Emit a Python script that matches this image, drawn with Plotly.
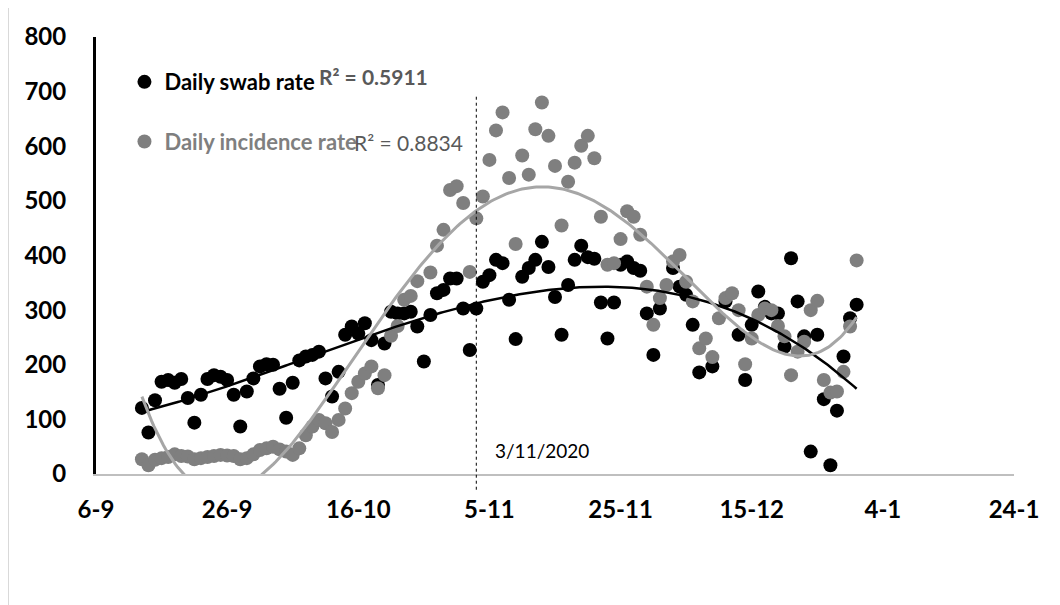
import numpy as np
import pandas as pd
import plotly.graph_objects as go

START = pd.Timestamp("2020-09-06")

# Daily swab rate: day offset from 6 Sep 2020 and value
swab_days = [7, 8, 9, 10, 11, 12, 13, 14, 15, 16, 17, 18, 19, 20, 21, 22, 23, 24, 25, 26,
             27, 28, 29, 30, 31, 32, 33, 34, 35, 36, 37, 38, 39, 40, 41, 42, 43, 44, 45, 46,
             47, 48, 49, 50, 51, 52, 53, 54, 55, 56, 57, 58, 59, 60, 61, 62, 63, 64, 65, 66,
             67, 68, 69, 70, 71, 72, 73, 74, 75, 76, 77, 78, 79, 80, 81, 82, 83, 84, 85, 86,
             88, 89, 90, 91, 92, 94, 96, 98, 99, 100, 101, 102, 103, 104, 105, 106,
             107, 108, 109, 110, 111, 112, 113, 114, 115, 116]
swab_vals = [121, 76, 135, 169, 172, 167, 174, 139, 94, 145, 174, 181, 178, 172, 145, 87, 151, 175, 197, 201,
             200, 156, 103, 167, 208, 215, 218, 224, 175, 142, 187, 255, 270, 257, 276, 245, 163, 239, 297, 294,
             294, 297, 270, 206, 291, 331, 337, 358, 358, 303, 227, 303, 352, 364, 392, 386, 319, 247, 361, 377,
             392, 425, 379, 324, 255, 346, 392, 418, 397, 394, 314, 248, 314, 383, 389, 377, 372, 294, 218, 303,
             377, 343, 328, 273, 186, 197, 316, 255, 172, 273, 334, 306, 294, 294, 233, 395,
             316, 252, 41, 255, 137, 16, 116, 215, 285, 310]

# Daily incidence rate
inc_days = [7, 8, 9, 10, 11, 12, 13, 14, 15, 16, 17, 18, 19, 20, 21, 22, 23, 24, 25, 26,
            27, 28, 29, 30, 31, 32, 33, 34, 35, 36, 37, 38, 39, 40, 41, 42, 43, 44, 45, 46,
            47, 48, 49, 51, 52, 53, 54, 55, 56, 57, 58, 59, 60, 61, 62, 63, 64, 65, 66,
            67, 68, 69, 70, 71, 72, 73, 74, 75, 76, 77, 78, 79, 80, 81, 82, 83, 84, 85, 86,
            87, 88, 89, 90, 91, 92, 93, 94, 95, 96, 97, 98, 99, 100, 101, 102, 103, 104, 105, 106,
            107, 108, 109, 110, 111, 112, 113, 114, 115, 116]
inc_vals = [27, 16, 26, 29, 31, 36, 33, 32, 27, 29, 31, 33, 35, 34, 33, 27, 29, 36, 44, 47,
            50, 45, 41, 35, 47, 71, 87, 99, 93, 77, 99, 120, 148, 169, 184, 197, 157, 181, 253, 271,
            319, 326, 353, 369, 418, 447, 520, 527, 496, 370, 468, 508, 575, 629, 662, 542, 421, 583, 548,
            631, 680, 619, 564, 455, 535, 570, 601, 619, 578, 471, 383, 386, 430, 481, 471, 438, 343, 273, 322,
            346, 389, 401, 352, 316, 230, 248, 214, 285, 322, 331, 300, 201, 248, 291, 303, 300, 271, 252, 181,
            224, 242, 300, 317, 172, 149, 151, 187, 270, 391]

swab_name = "Daily swab rate"
inc_name = "Daily incidence rate"
swab_r2 = "R² = 0.5911"
inc_r2 = "R² = 0.8834"
swab_degree = 3
inc_degree = 4

marker_line_day = 58          # 3/11/2020
marker_line_label = "3/11/2020"

tick_start = "2020-09-06"
x_range = ["2020-09-06", "2021-01-24"]

BLACK = "#000000"
GRAY = "#7F7F7F"
TREND_GRAY = "#A6A6A6"
R2_COLOR = "#595959"
FONT = "Lato"


def to_dates(days):
    return [START + pd.Timedelta(days=int(d)) for d in days]


def trend(days, vals, deg):
    d = np.asarray(days, dtype=float)
    coef = np.polyfit(d, np.asarray(vals, dtype=float), deg)
    grid = np.linspace(d.min(), d.max(), 300)
    fit = np.polyval(coef, grid)
    gdates = [START + pd.Timedelta(days=float(g)) for g in grid]
    return gdates, fit


fig = go.Figure()

fig.add_trace(go.Scatter(
    x=to_dates(swab_days), y=swab_vals, mode="markers", name=swab_name,
    marker=dict(color=BLACK, size=14, line=dict(width=0)),
    legendgroup="a",
))
fig.add_trace(go.Scatter(
    x=to_dates(inc_days), y=inc_vals, mode="markers",
    name=f"<span style='color:{GRAY}'>{inc_name}</span>",
    marker=dict(color=GRAY, size=14, line=dict(width=0)),
    legendgroup="b",
))

sx, sy = trend(swab_days, swab_vals, swab_degree)
ix, iy = trend(inc_days, inc_vals, inc_degree)
fig.add_trace(go.Scatter(x=sx, y=sy, mode="lines", line=dict(color=BLACK, width=2.5),
                         showlegend=False, hoverinfo="skip"))
fig.add_trace(go.Scatter(x=ix, y=iy, mode="lines", line=dict(color=TREND_GRAY, width=3),
                         showlegend=False, hoverinfo="skip"))

line_date = START + pd.Timedelta(days=marker_line_day)
fig.add_shape(type="line", xref="x", yref="paper", x0=line_date, x1=line_date,
              y0=-0.036, y1=0.868, line=dict(color=BLACK, width=1, dash="dot"))

# faint chart-area border on the left edge
fig.add_shape(type="line", xref="paper", yref="paper", x0=-0.0953, x1=-0.0953, y0=-0.40, y1=1.07,
              line=dict(color="#D9D9D9", width=1), layer="below")

fig.add_annotation(xref="paper", yref="paper", x=0.2407, y=0.9085, xanchor="left", yanchor="middle",
                   text=f"<b>{swab_r2}</b>", showarrow=False,
                   font=dict(family=FONT, size=21, color=R2_COLOR))
fig.add_annotation(xref="paper", yref="paper", x=0.2789, y=0.7597, xanchor="left", yanchor="middle",
                   text=inc_r2, showarrow=False,
                   font=dict(family=FONT, size=21, color=R2_COLOR))
fig.add_annotation(xref="paper", yref="paper", x=0.4858, y=0.0549, xanchor="center", yanchor="middle",
                   text=marker_line_label, showarrow=False,
                   font=dict(family=FONT, size=19, color=BLACK))

fig.update_layout(
    width=1052, height=597,
    margin=dict(l=88, r=46, t=29, b=131),
    paper_bgcolor="white", plot_bgcolor="white",
    font=dict(family=FONT, color=BLACK),
    showlegend=True,
    legend=dict(x=0.031, y=0.945, xanchor="left", yanchor="top",
                bgcolor="rgba(0,0,0,0)", traceorder="grouped", tracegroupgap=28,
                font=dict(family=FONT, size=22, color=BLACK, weight="bold"),
                itemwidth=30),
    xaxis=dict(
        type="date", range=x_range, tick0=tick_start, dtick=20 * 86400000,
        tickformat="%-d-%-m", showgrid=False, zeroline=False,
        showline=True, linecolor="#BFBFBF", linewidth=2,
        ticks="", ticklabelstandoff=13,
        tickfont=dict(family=FONT, size=24, color=BLACK, weight="bold"),
    ),
    yaxis=dict(
        range=[0, 800], dtick=100, showgrid=False, zeroline=False,
        showline=True, linecolor=BLACK, linewidth=3, ticks="", ticklabelstandoff=22,
        tickfont=dict(family=FONT, size=24, color=BLACK, weight="bold"),
    ),
)

fig.write_html("out.html")
